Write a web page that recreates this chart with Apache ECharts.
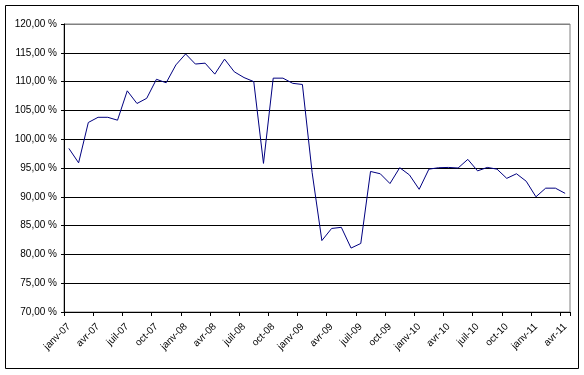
<!DOCTYPE html>
<html>
<head>
<meta charset="utf-8">
<script src="https://cdn.jsdelivr.net/npm/echarts@6/dist/echarts.min.js"></script>
<style>
html,body{margin:0;padding:0;background:#fff;}
#c{width:584px;height:375px;}
</style>
</head>
<body>
<div id="c"></div>
<script>
var months = ['janv','févr','mars','avr','mai','juin','juil','août','sept','oct','nov','déc'];
var years = ['07','08','09','10','11'];
var values2007 = [98.4, 95.9, 102.9, 103.8, 103.8, 103.3, 108.4, 106.2, 107.1, 110.4, 109.8, 112.9];
var values2008 = [114.8, 113.05, 113.2, 111.3, 113.9, 111.7, 110.7, 110.0, 95.8, 110.6, 110.6, 109.7];
var values2009 = [109.5, 94.2, 82.4, 84.5, 84.7, 81.1, 81.9, 94.4, 94.0, 92.3, 95.05, 93.8];
var values2010 = [91.3, 94.8, 95.05, 95.1, 95.0, 96.5, 94.5, 95.1, 94.8, 93.2, 94.0, 92.7];
var values2011 = [90.0, 91.5, 91.5, 90.6];
var yTicks = [70, 75, 80, 85, 90, 95, 100, 105, 110, 115, 120];

var categories = [];
var yearly = [values2007, values2008, values2009, values2010, values2011];
var data = [];
yearly.forEach(function (arr, yi) {
  arr.forEach(function (v, mi) {
    categories.push(months[mi] + '-' + years[yi]);
    data.push(v);
  });
});

var splitColors = yTicks.map(function (t, i) { return i === yTicks.length - 1 ? '#808080' : '#000000'; });

var chart = echarts.init(document.getElementById('c'), null, {renderer: 'canvas'});
chart.setOption({
  animation: false,
  backgroundColor: '#ffffff',
  grid: {
    left: 64, right: 14, top: 24, bottom: 63,
    show: true, borderColor: '#808080', borderWidth: 1, backgroundColor: '#ffffff',
    containLabel: false
  },
  xAxis: {
    type: 'category',
    data: categories,
    boundaryGap: true,
    axisLine: {show: true, lineStyle: {color: '#000', width: 1}},
    axisTick: {show: true, interval: 2, length: 4, lineStyle: {color: '#000'}},
    axisLabel: {
      interval: 2, rotate: 45, margin: 13,
      color: '#000', fontFamily: 'Liberation Sans, Arial, sans-serif', fontSize: 10
    },
    splitLine: {show: false}
  },
  yAxis: {
    type: 'value',
    min: yTicks[0], max: yTicks[yTicks.length - 1], interval: 5,
    axisLine: {show: true, lineStyle: {color: '#000', width: 1}},
    axisTick: {show: true, length: 3, lineStyle: {color: '#000'}},
    axisLabel: {
      margin: 7, color: '#000', fontFamily: 'Liberation Sans, Arial, sans-serif', fontSize: 10,
      formatter: function (v) { return v.toFixed(2).replace('.', ',') + ' %'; }
    },
    splitLine: {show: true, lineStyle: {color: splitColors, width: 1}}
  },
  series: [{
    type: 'line',
    data: data,
    symbol: 'none',
    lineStyle: {color: '#000080', width: 1},
    itemStyle: {color: '#000080'}
  }],
  graphic: [{
    type: 'rect',
    shape: {x: 5.5, y: 5.5, width: 573, height: 363},
    style: {fill: null, stroke: '#000', lineWidth: 1},
    silent: true
  }]
});
</script>
</body>
</html>
